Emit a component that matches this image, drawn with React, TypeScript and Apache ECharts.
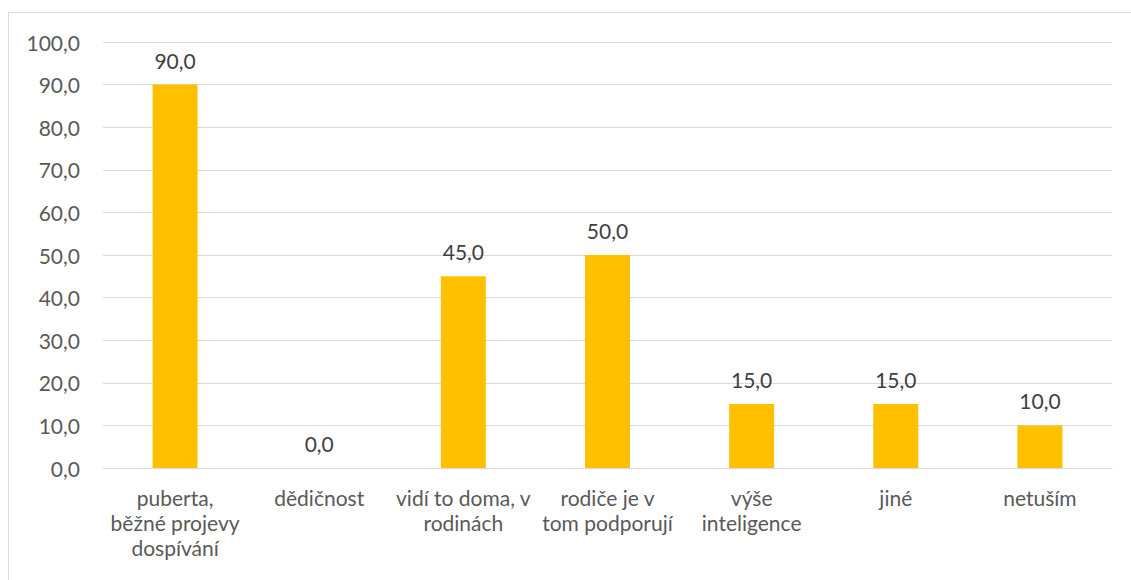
import React, { useEffect, useRef } from "react";
import * as echarts from "echarts";

const categories = [
  "puberta,\nběžné projevy\ndospívání",
  "dědičnost",
  "vidí to doma, v\nrodinách",
  "rodiče je v\ntom podporují",
  "výše\ninteligence",
  "jiné",
  "netuším",
];
const values = [90, 0, 45, 50, 15, 15, 10];
const yMin = 0;
const yMax = 100;
const yInterval = 10;

const fmt = (v: number) => v.toFixed(1).replace(".", ",");
const FONT = "Lato, 'Open Sans', sans-serif";
const FS = 21;

export default function App() {
  const ref = useRef<HTMLDivElement>(null);
  useEffect(() => {
    if (!ref.current) return;
    const chart = echarts.init(ref.current, undefined, { renderer: "svg" });
    chart.setOption({
      animation: false,
      backgroundColor: "#ffffff",
      textStyle: { fontFamily: FONT },
      grid: { left: 103, right: 19, top: 42, bottom: 112, containLabel: false },
      graphic: [
        {
          type: "rect",
          shape: { x: 8.5, y: 12.5, width: 1200, height: 700 },
          style: { fill: "none", stroke: "#d9d9d9", lineWidth: 1 },
          silent: true,
        },
      ],
      xAxis: {
        type: "category",
        data: categories,
        axisLine: { lineStyle: { color: "#d9d9d9", width: 1 } },
        axisTick: { show: false },
        axisLabel: {
          color: "#595959",
          fontSize: FS,
          fontFamily: FONT,
          lineHeight: 25,
          margin: 17,
          interval: 0,
        },
      },
      yAxis: {
        type: "value",
        min: yMin,
        max: yMax,
        interval: yInterval,
        axisLine: { show: false },
        axisTick: { show: false },
        splitLine: { lineStyle: { color: "#d9d9d9", width: 1 } },
        axisLabel: {
          color: "#595959",
          fontSize: FS,
          fontFamily: FONT,
          margin: 23,
          formatter: (v: number) => fmt(v),
        },
      },
      series: [
        {
          type: "bar",
          data: values,
          barWidth: 45,
          itemStyle: { color: "#FFC000" },
          label: {
            show: true,
            position: "top",
            distance: 14,
            color: "#404040",
            fontSize: FS,
            fontFamily: FONT,
            formatter: (p: any) => fmt(p.value),
          },
        },
      ],
    });
    return () => chart.dispose();
  }, []);
  return (
    <div
      ref={ref}
      style={{ position: "absolute", left: 0, top: 0, width: 1131, height: 580 }}
    />
  );
}
